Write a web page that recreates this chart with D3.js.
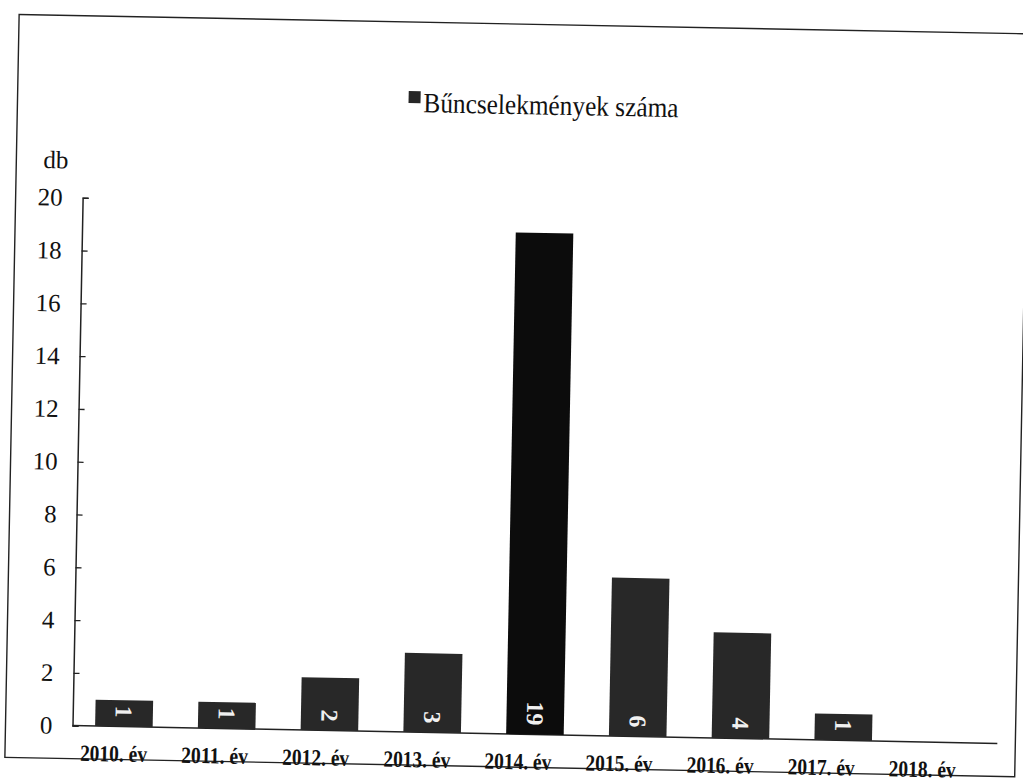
<!DOCTYPE html>
<html>
<head>
<meta charset="utf-8">
<script src="https://cdn.jsdelivr.net/npm/d3@7"></script>
<style>
  body { margin: 0; background: #fff; }
  svg { display: block; }
  text { font-family: "Liberation Serif", "Times New Roman", serif; fill: #111; }
</style>
</head>
<body>
<script>
// data
const years = ["2010. év", "2011. év", "2012. év", "2013. év", "2014. év", "2015. év", "2016. év", "2017. év", "2018. év"];
const counts = [1, 1, 2, 3, 19, 6, 4, 1, 0];
const yTicks = [0, 2, 4, 6, 8, 10, 12, 14, 16, 18, 20];
const seriesName = "Bűncselekmények száma";
const unitLabel = "db";

const width = 1023, height = 782;

const svg = d3.select("body").append("svg")
  .attr("width", width)
  .attr("height", height);

svg.append("rect").attr("width", width).attr("height", height).attr("fill", "#fff");

// the scan is tilted a little, so the whole chart gets rotated
const g = svg.append("g").attr("transform", "rotate(1.1, 512, 391)");

// frame of the chart area
g.append("rect")
  .attr("x", 12).attr("y", 24)
  .attr("width", 1010).attr("height", 743)
  .attr("fill", "none")
  .attr("stroke", "#222")
  .attr("stroke-width", 1.4);

// scales
const x = d3.scaleBand()
  .domain(years)
  .range([79, 1004])
  .paddingInner(0.44)
  .paddingOuter(0.22);

// category labels sit on a slightly tighter spacing in the scan
const xLab = d3.scaleBand()
  .domain(years)
  .range([70, 980]);

const y = d3.scaleLinear()
  .domain([0, 20])
  .range([734, 206]);

// y axis, ticks pointing inwards
const yAxis = g.append("g")
  .attr("transform", "translate(79,0)")
  .call(d3.axisLeft(y).tickValues(yTicks).tickSize(-6).tickSizeOuter(-6).tickPadding(20));
yAxis.select(".domain").attr("stroke", "#222").attr("stroke-width", 1.5);
yAxis.selectAll(".tick line").attr("stroke", "#222").attr("stroke-width", 1.3);
yAxis.selectAll(".tick text")
  .attr("font-family", "Liberation Serif")
  .attr("font-size", 25)
  .attr("fill", "#111");

g.append("text")
  .attr("x", 39).attr("y", 177)
  .attr("font-size", 25)
  .text(unitLabel);

// x axis baseline
g.append("line")
  .attr("x1", x.range()[0]).attr("x2", x.range()[1])
  .attr("y1", y(0)).attr("y2", y(0))
  .attr("stroke", "#222")
  .attr("stroke-width", 1.5);

// category labels
const xAxis = g.append("g")
  .attr("transform", "translate(0," + y(0) + ")")
  .call(d3.axisBottom(xLab).tickSize(0).tickPadding(0));
xAxis.select(".domain").remove();
xAxis.selectAll(".tick text")
  .attr("y", 35)
  .attr("dy", null)
  .attr("font-family", "Liberation Serif")
  .attr("font-weight", "bold")
  .attr("font-size", 23)
  .attr("fill", "#111")
  .attr("textLength", 67)
  .attr("lengthAdjust", "spacingAndGlyphs");

// bars
g.append("g")
  .selectAll("rect")
  .data(counts)
  .join("rect")
  .attr("x", (d, i) => x(years[i]))
  .attr("y", d => y(d))
  .attr("width", x.bandwidth())
  .attr("height", d => y(0) - y(d))
  .attr("fill", d => d === d3.max(counts) ? "#0c0c0c" : "#282828");

// value labels, rotated inside the bar base
g.append("g")
  .selectAll("text")
  .data(counts.map((d, i) => ({ year: years[i], value: d })).filter(d => d.value > 0))
  .join("text")
  .attr("transform", d => "translate(" + (x(d.year) + x.bandwidth() / 2) + "," + (y(0) - 9) + ") rotate(90)")
  .attr("text-anchor", "end")
  .attr("dy", "0.35em")
  .attr("font-weight", "bold")
  .attr("font-size", 24)
  .style("fill", "#f0f0f0")
  .text(d => d.value);

// legend
const legend = g.append("g");
legend.append("rect")
  .attr("x", 403).attr("y", 93)
  .attr("width", 12).attr("height", 12)
  .attr("fill", "#262626");
legend.append("text")
  .attr("x", 418).attr("y", 114)
  .attr("font-size", 28)
  .attr("textLength", 255)
  .attr("lengthAdjust", "spacingAndGlyphs")
  .text(seriesName);
</script>
</body>
</html>
